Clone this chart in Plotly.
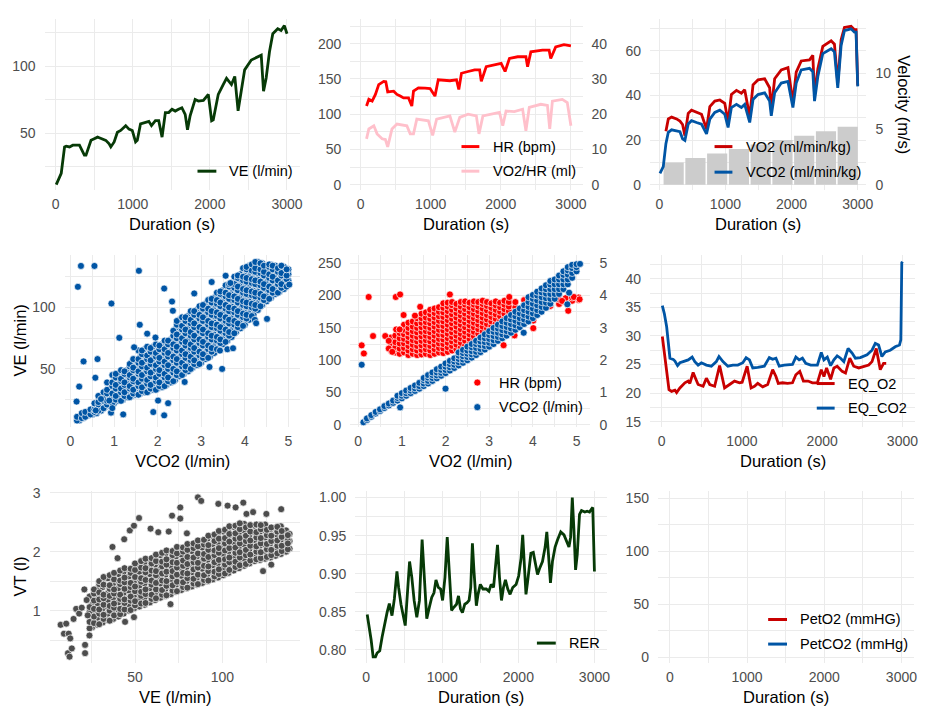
import plotly.graph_objects as go

FONT = "Liberation Sans, Arial, sans-serif"

# ---------------- data ----------------
# Panel 1: VE (l/min) over time
VE_T = [8, 51, 73, 116, 137, 180, 223, 309, 373, 394, 459, 501, 544, 566, 609, 651, 694, 716, 759, 801,
        844, 887, 909, 951, 994, 1037, 1059, 1101, 1166, 1209, 1243, 1294, 1337, 1380, 1423, 1466, 1509, 1551, 1594, 1637,
        1680, 1710, 1744, 1809, 1851, 1916, 1980, 2023, 2044, 2109, 2173, 2216, 2280, 2323, 2366, 2409, 2451, 2537, 2623, 2666,
        2696, 2730, 2773, 2816, 2880, 2923, 2966, 3000]
VE_V = [11.5, 16.4, 20, 39.7, 40.2, 39.7, 41, 41, 33.6, 33.6, 44.6, 45.8, 47, 46.5, 45.8, 44.6, 42, 39.7, 43.4, 50.7,
        52, 54.4, 55.6, 53, 52, 43.4, 44.6, 57, 58, 58.8, 55.6, 59.3, 59.3, 47, 65.4, 65.4, 67.9, 66.5, 67.9, 69,
        64, 52.5, 63, 75.2, 74, 74.5, 79, 59.3, 60, 79, 86.3, 91, 86.3, 92.4, 66.7, 83.8, 97.3, 104.7, 107, 108.3,
        81.4, 91.2, 110.8, 124.3, 128, 126.7, 130.4, 124.3]

# Panel 2: HR (bpm) and VO2/HR (ml)
HR_T = [85, 118, 165, 212, 259, 330, 360, 387, 472, 519, 566, 613, 684, 731, 755, 825, 920, 991, 1061, 1108,
        1274, 1368, 1401, 1439, 1533, 1627, 1698, 1722, 1792, 1934, 2005, 2061, 2123, 2241, 2358, 2382, 2429, 2594, 2689, 2712,
        2783, 2901, 3000]
HR_V = [111.6, 121, 118.6, 128, 141.9, 146.5, 146, 131.6, 132.6, 128, 125.6, 123, 123, 111.6, 132.6, 137.2, 137, 136.3, 125.6, 148.8,
        147.4, 148.8, 134.9, 158, 160.5, 162.8, 162.8, 146.5, 167.4, 169.8, 172, 160.5, 179, 181.4, 181.4, 167.4, 188.4, 190.7, 190.7, 179,
        195.3, 198.6, 196.7]
O2P_T = [85, 118, 189, 236, 307, 354, 387, 448, 519, 660, 708, 755, 802, 967, 1028, 1085, 1274, 1344, 1415, 1533,
         1651, 1689, 1745, 1981, 2028, 2075, 2193, 2311, 2358, 2406, 2571, 2665, 2698, 2736, 2877, 2948, 3000]
O2P_V = [13.0, 15.8, 16.7, 14.4, 13.0, 12.8, 10.7, 15.8, 17.2, 16.7, 14.4, 14.4, 18.6, 18.1, 14.0, 18.6, 19.5, 14.9, 19.1, 20.0,
         19.5, 14.4, 19.5, 20.5, 16.7, 20.9, 20.7, 21.4, 15.3, 21.9, 22.8, 22.5, 15.8, 23.7, 24.2, 23.3, 16.7]

# Panel 3: VO2 / VCO2 (ml/min/kg) and stage velocity (m/s)
GAS_T = [10, 60, 100, 136, 186, 261, 312, 352, 387, 437, 487, 563, 638, 714, 764, 839, 915, 990, 1040, 1090,
         1166, 1241, 1291, 1367, 1417, 1492, 1593, 1668, 1693, 1744, 1844, 1945, 2020, 2070, 2146, 2271, 2321, 2347, 2397, 2472,
         2598, 2648, 2698, 2749, 2799, 2899, 2950, 2975, 3000]
VO2_KG = [5.0, 8.0, 24.0, 29.5, 30.3, 29.5, 28.5, 27.0, 22.0, 32.0, 33.4, 32.5, 31.6, 25.0, 35.0, 37.5, 38.0, 36.5, 28.0, 40.5,
          42.3, 41.0, 42.6, 30.5, 44.8, 47.0, 47.5, 43.5, 33.5, 47.5, 51.5, 52.5, 37.0, 50.5, 55.5, 56.0, 58.0, 40.0, 52.0, 62.0,
          64.5, 63.0, 45.5, 65.0, 70.5, 71.0, 69.5, 69.5, 44.5]
VCO2_KG = [5.1, 8.1, 18.4, 23.5, 24.6, 24.3, 23.8, 20.6, 19.9, 27.2, 28.7, 27.9, 27.2, 22.8, 29.4, 32.4, 33.4, 31.6, 25.7, 34.6,
           36.0, 34.6, 36.0, 27.9, 38.2, 40.4, 41.2, 37.5, 30.9, 41.2, 45.6, 46.3, 34.6, 45.6, 51.5, 52.2, 50.7, 37.5, 48.5, 58.8,
           61.0, 59.6, 43.4, 62.5, 69.1, 69.9, 68.4, 68.4, 44.1]
STAGE_T = [217, 546, 875, 1204, 1533, 1862, 2191, 2520, 2849]
VELOCITY = [2.0, 2.4, 2.8, 3.2, 3.6, 4.0, 4.4, 4.8, 5.2]

# Panel 4: VE vs VCO2 (columns of VCO2 with the VE values read in each; two interleaved sets)
P4_X = [0.15, 0.26, 0.34, 0.46, 0.55, 0.64, 0.76, 0.84, 0.96, 1.04, 1.16, 1.24, 1.36, 1.44, 1.56, 1.64, 1.76, 1.84, 1.96, 2.04,
        2.16, 2.24, 2.36, 2.44, 2.56, 2.64, 2.76, 2.84, 2.96, 3.04, 3.16, 3.24, 3.36, 3.44, 3.56, 3.64, 3.76, 3.84, 3.96, 4.04,
        4.16, 4.24, 4.36, 4.44, 4.56, 4.64, 4.76, 4.84, 4.96]
P4_Y = [[8, 11], [10, 14], [11, 15], [13, 17], [15, 17, 22], [16, 21, 23, 28], [18, 24, 26, 31], [21, 24, 30, 33, 39],
        [22, 27, 30, 36, 39, 45], [25, 28, 34, 37, 43, 46], [24, 31, 34, 40, 42, 49], [28, 31, 37, 39, 46, 48],
        [27, 34, 36, 43, 45, 52, 54], [30, 33, 40, 42, 49, 51, 58], [29, 36, 39, 46, 48, 55, 58, 65],
        [32, 35, 42, 45, 52, 55, 62, 65], [31, 38, 41, 48, 51, 58, 61, 68], [34, 37, 44, 47, 54, 57, 64, 67],
        [33, 40, 43, 50, 53, 60, 63, 70], [36, 39, 46, 49, 56, 59, 66, 69], [36, 43, 46, 53, 56, 63, 66, 73],
        [40, 43, 50, 53, 60, 63, 70, 73], [40, 47, 50, 57, 60, 67, 70, 77, 81], [45, 48, 55, 58, 65, 68, 75, 78, 86, 89],
        [45, 52, 55, 62, 65, 72, 75, 82, 85, 92], [49, 52, 59, 62, 69, 72, 79, 82, 89, 92],
        [50, 57, 60, 67, 70, 77, 80, 87, 90, 97], [54, 57, 64, 67, 74, 77, 84, 87, 94, 97],
        [54, 61, 64, 71, 74, 81, 84, 91, 94, 101], [59, 62, 69, 72, 79, 82, 89, 92, 99, 102],
        [59, 66, 69, 76, 79, 86, 89, 96, 99, 106], [64, 67, 74, 77, 84, 87, 94, 97, 104, 107],
        [66, 73, 76, 83, 86, 93, 96, 103, 106, 112], [71, 74, 81, 84, 91, 94, 101, 104, 111, 113],
        [72, 79, 82, 89, 92, 99, 102, 109, 112, 118], [77, 80, 87, 90, 97, 100, 107, 110, 117, 119],
        [79, 86, 89, 96, 99, 106, 109, 116, 119, 125], [84, 87, 94, 97, 104, 107, 114, 117, 124, 126],
        [85, 92, 95, 102, 105, 112, 115, 122, 125, 132], [91, 94, 101, 104, 111, 114, 121, 124, 131, 133],
        [93, 100, 103, 110, 113, 120, 123, 130, 135], [99, 102, 109, 112, 119, 122, 129, 132, 137],
        [101, 108, 111, 118, 121, 128, 131, 136], [106, 109, 116, 119, 126, 129, 134], [107, 114, 117, 124, 127, 133, 135],
        [112, 115, 122, 125, 131, 134], [112, 119, 122, 129, 132], [116, 119, 126, 128, 134], [117, 123, 126, 131]]
P4B_X = [0.2, 0.3, 0.4, 0.5, 0.6, 0.7, 0.8, 0.9, 1.0, 1.1, 1.2, 1.3, 1.4, 1.5, 1.6, 1.7, 1.8, 1.9, 2.0, 2.1,
         2.2, 2.3, 2.4, 2.5, 2.6, 2.7, 2.8, 2.9, 3.0, 3.1, 3.2, 3.3, 3.4, 3.5, 3.6, 3.7, 3.8, 3.9, 4.0, 4.1,
         4.2, 4.3, 4.4, 4.5, 4.6, 4.7, 4.8, 4.9, 5.0]
P4B_Y = [[8, 11], [10, 13], [12, 15], [13, 16], [14, 18, 21], [16, 20, 24, 28], [19, 23, 27, 31], [20, 25, 29, 33, 38],
         [22, 26, 31, 35, 40, 44], [24, 28, 33, 37, 42, 46], [25, 30, 34, 39, 43, 48], [27, 31, 36, 40, 45, 49],
         [28, 33, 37, 42, 46, 51, 55], [29, 34, 39, 43, 48, 52, 57], [30, 35, 40, 45, 49, 54, 59, 64],
         [31, 36, 41, 46, 51, 56, 61, 66], [32, 37, 42, 47, 52, 57, 62, 67], [33, 38, 43, 48, 53, 58, 63, 68],
         [34, 39, 44, 49, 54, 59, 64, 69], [35, 40, 45, 50, 55, 60, 65, 70], [37, 42, 47, 52, 57, 62, 67, 72],
         [39, 44, 49, 54, 59, 64, 69, 74], [41, 46, 51, 56, 61, 66, 71, 76, 82], [44, 49, 54, 59, 64, 69, 74, 79, 85, 90],
         [46, 51, 56, 61, 66, 71, 76, 81, 86, 91], [48, 53, 58, 63, 68, 73, 78, 83, 88, 93],
         [51, 56, 61, 66, 71, 76, 81, 86, 91, 96], [53, 58, 63, 68, 73, 78, 83, 88, 93, 98],
         [55, 60, 65, 70, 75, 80, 85, 90, 95, 100], [58, 63, 68, 73, 78, 83, 88, 93, 98, 103],
         [60, 65, 70, 75, 80, 85, 90, 95, 100, 105], [63, 68, 73, 78, 83, 88, 93, 98, 103, 108],
         [67, 72, 77, 82, 87, 92, 97, 102, 107, 111], [70, 75, 80, 85, 90, 95, 100, 105, 110, 114],
         [73, 78, 83, 88, 93, 98, 103, 108, 113, 117], [76, 81, 86, 91, 96, 101, 106, 111, 116, 120],
         [80, 85, 90, 95, 100, 105, 110, 115, 120, 124], [83, 88, 93, 98, 103, 108, 113, 118, 123, 127],
         [86, 91, 96, 101, 106, 111, 116, 121, 126, 131], [90, 95, 100, 105, 110, 115, 120, 125, 130, 134],
         [94, 99, 104, 109, 114, 119, 124, 129, 134], [98, 103, 108, 113, 118, 123, 128, 133, 137],
         [102, 107, 112, 117, 122, 127, 132, 136], [105, 110, 115, 120, 125, 130, 134], [108, 113, 118, 123, 128, 132, 135],
         [111, 116, 121, 126, 130, 134], [113, 118, 123, 128, 132], [115, 120, 125, 129, 133], [118, 122, 127, 131]]
P4_OUT_X = [0.14, 0.2, 0.24, 0.55, 0.17, 0.3, 0.62, 0.57, 0.94, 1.12, 1.57, 1.59, 1.76, 1.95, 2.15, 0.93, 1.21, 1.9, 2.15, 2.24,
            2.01, 2.33, 2.62, 3.19, 3.48, 3.43, 3.6, 3.73, 4.23, 4.51, 4.26, 2.84, 3.24, 3.56, 3.67, 5.02, 0.70, 0.89, 0.58, 0.96,
            1.46, 2.35]
P4_OUT_Y = [23.4, 35.6, 133.8, 133.8, 116.8, 56.1, 58, 42.8, 103.2, 75.3, 129.8, 85.9, 78.7, 75.5, 115.4, 14.4, 13, 14.9, 12.2, 22.1,
            24.2, 104.8, 39.4, 51.6, 50, 64.9, 66, 66.8, 89.9, 90.7, 87.2, 111.4, 120.7, 125.8, 119.9, 118.6, 25.5, 24.2, 16.2, 18.1,
            67.6, 97.3]

# Panel 5: HR (bpm) and VCO2 (l/min) vs VO2 (l/min)
P5R_X = [0.75, 0.85, 0.95, 1.05, 1.15, 1.25, 1.35, 1.45, 1.55, 1.65, 1.75, 1.85, 1.95, 2.05, 2.15, 2.25, 2.35, 2.45, 2.55, 2.65,
         2.75, 2.85, 2.95, 3.05, 3.15, 3.25, 3.35, 3.45, 3.6, 3.8, 4.0, 4.2, 4.4, 4.6, 4.75, 4.9, 5.05]
P5R_Y = [[115, 125, 135], [112, 120, 128, 138], [110, 118, 126, 134, 142], [112, 119, 126, 133, 140, 147, 155],
         [108, 115, 122, 129, 136, 143, 150, 158], [110, 117, 124, 131, 138, 145, 152, 160],
         [108, 115, 122, 129, 136, 143, 150, 157, 165], [109, 116, 123, 130, 137, 144, 151, 158, 165, 172],
         [110, 117, 124, 131, 138, 145, 152, 159, 166, 174], [108, 115, 122, 129, 136, 143, 150, 157, 164, 171, 178],
         [110, 117, 124, 131, 138, 145, 152, 159, 166, 173, 180], [112, 119, 126, 133, 140, 147, 154, 161, 168, 175, 182],
         [111, 118, 125, 132, 139, 146, 153, 160, 167, 174, 181, 188],
         [113, 120, 127, 134, 141, 148, 155, 162, 169, 176, 183, 189],
         [115, 122, 129, 136, 143, 150, 157, 164, 171, 178, 185, 190],
         [117, 124, 131, 138, 145, 152, 159, 166, 173, 180, 187], [120, 127, 134, 141, 148, 155, 162, 169, 176, 183, 190],
         [123, 130, 137, 144, 151, 158, 165, 172, 179, 186, 191], [126, 133, 140, 147, 154, 161, 168, 175, 182, 189],
         [130, 137, 144, 151, 158, 165, 172, 179, 186, 191], [134, 141, 148, 155, 162, 169, 176, 183, 190],
         [138, 145, 152, 159, 166, 173, 180, 187, 192], [142, 149, 156, 163, 170, 177, 184, 190],
         [146, 153, 160, 167, 174, 181, 188], [150, 157, 164, 171, 178, 185, 191], [154, 161, 168, 175, 182, 189],
         [158, 165, 172, 179, 186, 192], [162, 169, 176, 183, 190], [166, 174, 182, 190], [170, 178, 186, 193],
         [175, 183, 191], [180, 188, 195], [184, 191, 196], [187, 194], [190, 196], [192, 197], [193, 197]]
P5R_OUT_X = [0.08, 0.13, 0.24, 0.34, 0.62, 0.70, 0.87, 0.86, 0.96, 0.95, 1.04, 1.42, 1.30, 2.10, 3.33, 3.46, 3.58, 4.01, 4.01,
             4.81, 4.94, 5.07, 4.67, 0.70, 0.78]
P5R_OUT_Y = [123, 110.5, 197.8, 137.4, 137.4, 130, 147.6, 197.8, 201.8, 147.6, 169.9, 182.6, 168.9, 201.8, 123.2, 197.8, 138.4,
             149.6, 161.3, 176.5, 197.8, 194.2, 191.7, 118, 113]
P5B_X = [0.12, 0.2, 0.3, 0.4, 0.5, 0.6, 0.7, 0.8, 0.9, 1.0, 1.1, 1.2, 1.3, 1.4, 1.5, 1.6, 1.7, 1.8, 1.9, 2.0,
         2.1, 2.2, 2.3, 2.4, 2.5, 2.6, 2.7, 2.8, 2.9, 3.0, 3.1, 3.2, 3.3, 3.4, 3.5, 3.6, 3.7, 3.8, 3.9, 4.0,
         4.1, 4.2, 4.3, 4.4, 4.5, 4.6, 4.7, 4.8, 4.9, 5.0, 5.08]
P5B_Y = [[0.08], [0.15, 0.2], [0.25, 0.3], [0.35, 0.4], [0.43, 0.48], [0.52, 0.58], [0.6, 0.66], [0.68, 0.75],
         [0.75, 0.83, 0.9], [0.82, 0.9, 0.98], [0.9, 0.98, 1.06], [0.98, 1.06, 1.14], [1.05, 1.13, 1.22], [1.12, 1.2, 1.3],
         [1.2, 1.28, 1.38, 1.45], [1.28, 1.36, 1.46, 1.54], [1.36, 1.45, 1.54, 1.62], [1.44, 1.53, 1.62, 1.72],
         [1.52, 1.61, 1.7, 1.8], [1.6, 1.7, 1.8, 1.9], [1.68, 1.78, 1.88, 1.98], [1.76, 1.86, 1.96, 2.06],
         [1.84, 1.94, 2.04, 2.14, 2.24], [1.92, 2.02, 2.12, 2.22, 2.32], [2.0, 2.1, 2.2, 2.3, 2.42],
         [2.08, 2.18, 2.28, 2.4, 2.5], [2.16, 2.26, 2.38, 2.5, 2.6], [2.25, 2.35, 2.47, 2.58, 2.7],
         [2.33, 2.44, 2.56, 2.68, 2.8], [2.42, 2.54, 2.66, 2.78, 2.9], [2.5, 2.62, 2.75, 2.88, 3.0],
         [2.6, 2.72, 2.85, 2.98, 3.1], [2.68, 2.8, 2.93, 3.06, 3.2], [2.76, 2.9, 3.03, 3.16, 3.3],
         [2.85, 2.98, 3.12, 3.26, 3.4], [2.94, 3.08, 3.22, 3.36, 3.5], [3.02, 3.16, 3.3, 3.45, 3.6],
         [3.12, 3.26, 3.4, 3.55, 3.7], [3.2, 3.35, 3.5, 3.65, 3.8, 3.95], [3.3, 3.45, 3.6, 3.75, 3.9, 4.02],
         [3.4, 3.55, 3.7, 3.85, 4.0, 4.12], [3.5, 3.65, 3.8, 3.95, 4.1, 4.22], [3.62, 3.78, 3.92, 4.06, 4.2, 4.32],
         [3.75, 3.9, 4.05, 4.2, 4.34, 4.45], [3.9, 4.05, 4.2, 4.35, 4.5], [4.05, 4.2, 4.35, 4.5, 4.62],
         [4.2, 4.35, 4.5, 4.64, 4.75], [4.35, 4.5, 4.65, 4.78, 4.88], [4.55, 4.7, 4.85, 4.95], [4.75, 4.88, 4.97], [4.98]]
P5B_OUT_X = [0.08, 0.96, 2.0, 3.79, 4.83, 4.79]
P5B_OUT_Y = [1.86, 0.54, 1.12, 2.85, 4.09, 3.73]

# Panel 6: ventilatory equivalents
EQC_T = [8, 33, 62, 83, 103, 144, 165, 198, 227, 268, 330, 380, 413, 454, 495, 557, 619, 681, 714, 763,
         825, 887, 949, 1011, 1052, 1094, 1135, 1197, 1279, 1341, 1383, 1424, 1465, 1527, 1589, 1630, 1672, 1713, 1754, 1795,
         1857, 1940, 1989, 2022, 2064, 2105, 2146, 2187, 2229, 2270, 2323, 2373, 2414, 2476, 2559, 2621, 2662, 2703, 2744, 2786,
         2848, 2910, 2963, 2980, 2992, 3000]
EQC_V = [35.3, 33.9, 31.6, 28.4, 26.1, 25.9, 25.6, 24.8, 25.3, 25.5, 25.8, 26.3, 25.5, 24.9, 25.3, 24.9, 24.7, 25.5, 26.4, 25.5,
         24.7, 24.9, 24.9, 25.3, 26.2, 25.8, 24.4, 24.5, 24.7, 26.2, 25.9, 26.1, 24.7, 24.9, 24.9, 25.0, 26.3, 25.8, 26.1, 25.2,
         24.9, 24.9, 27.1, 25.8, 26.3, 24.8, 25.8, 26.5, 26.1, 25.5, 27.8, 27.0, 26.1, 26.2, 26.7, 27.5, 28.7, 28.4, 26.4, 27.2,
         27.5, 28.1, 28.4, 29.3, 42.8, 43.0]
EQO_T = [8, 41, 74, 91, 124, 165, 186, 227, 289, 330, 351, 392, 421, 454, 516, 557, 599, 660, 722, 784,
         846, 908, 970, 1003, 1065, 1114, 1156, 1197, 1259, 1321, 1383, 1424, 1453, 1506, 1568, 1630, 1672, 1721, 1766, 1824,
         1878, 1940, 1989, 2022, 2055, 2105, 2146, 2187, 2249, 2291, 2344, 2393, 2456, 2518, 2580, 2621, 2674, 2724, 2765, 2798]
EQO_V = [29.9, 26.4, 22.1, 20.6, 20.3, 20.5, 20.1, 20.9, 21.8, 22.1, 21.7, 23.6, 22.6, 21.5, 21.2, 22.6, 21.5, 21.2, 24.8, 20.9,
         21.5, 22.1, 21.8, 21.9, 24.7, 20.9, 21.2, 21.7, 21.1, 21.5, 24.1, 22.9, 21.7, 21.8, 21.7, 21.8, 23.2, 23.8, 22.1, 22.1,
         21.8, 21.8, 24.1, 22.9, 24.4, 22.4, 24.4, 24.7, 23.8, 23.5, 26.1, 24.7, 24.4, 24.7, 24.9, 25.5, 27.8, 24.1, 25.2, 25.2]

# Panel 7: VT (l) vs VE (l/min) (two interleaved sets of columns)
P7_X = [24, 26.5, 29.5, 32, 35.5, 38, 41.5, 44, 47.5, 50, 53.5, 56, 59.5, 62, 65.5, 68, 71.5, 74, 77.5, 80,
        83.5, 86, 89.5, 92, 95.5, 98, 101.5, 104, 107.5, 110, 113.5, 116, 119.5, 122, 125.5, 128, 131.5, 134, 137.5]
P7_Y = [[0.7, 0.81, 0.98, 1.06, 1.24], [0.79, 0.9, 1.03, 1.17, 1.29, 1.36], [0.77, 0.95, 1.02, 1.19, 1.31, 1.45, 1.5],
        [0.86, 0.93, 1.1, 1.21, 1.27, 1.44, 1.57], [0.83, 1.0, 1.08, 1.25, 1.37, 1.43, 1.6],
        [0.92, 1.05, 1.12, 1.29, 1.36, 1.53, 1.64], [0.94, 1.03, 1.2, 1.27, 1.45, 1.51, 1.68],
        [1.02, 1.13, 1.19, 1.37, 1.48, 1.56, 1.72], [1.01, 1.17, 1.24, 1.4, 1.47, 1.64, 1.71],
        [1.09, 1.16, 1.33, 1.41, 1.57, 1.69, 1.8], [1.12, 1.25, 1.32, 1.49, 1.55, 1.73, 1.84],
        [1.13, 1.28, 1.36, 1.52, 1.65, 1.72, 1.88], [1.2, 1.27, 1.44, 1.51, 1.68, 1.8, 1.89],
        [1.21, 1.36, 1.47, 1.6, 1.67, 1.84, 1.95], [1.27, 1.35, 1.51, 1.63, 1.75, 1.83, 1.98],
        [1.26, 1.42, 1.5, 1.66, 1.78, 1.87, 2.02], [1.34, 1.43, 1.58, 1.67, 1.82, 1.94, 2.01],
        [1.33, 1.49, 1.61, 1.73, 1.81, 1.97, 2.08], [1.4, 1.48, 1.64, 1.76, 1.85, 2.0, 2.07],
        [1.39, 1.55, 1.63, 1.79, 1.91, 2.03, 2.13], [1.46, 1.54, 1.7, 1.82, 1.9, 2.06, 2.14],
        [1.45, 1.61, 1.73, 1.81, 1.97, 2.09, 2.19], [1.52, 1.6, 1.76, 1.88, 1.96, 2.12, 2.2],
        [1.51, 1.67, 1.75, 1.91, 2.03, 2.11, 2.27], [1.58, 1.66, 1.82, 1.94, 2.02, 2.18, 2.29],
        [1.62, 1.7, 1.86, 1.98, 2.06, 2.22, 2.35], [1.63, 1.78, 1.87, 2.02, 2.14, 2.23, 2.37],
        [1.69, 1.82, 1.9, 2.06, 2.17, 2.3, 2.43], [1.74, 1.83, 1.98, 2.07, 2.22, 2.31, 2.44],
        [1.77, 1.9, 1.99, 2.14, 2.23, 2.38, 2.48], [1.79, 1.94, 2.03, 2.18, 2.27, 2.41],
        [1.85, 1.95, 2.1, 2.19, 2.34, 2.45], [1.87, 2.0, 2.09, 2.24, 2.33, 2.46], [1.89, 1.99, 2.14, 2.23, 2.38, 2.45],
        [1.91, 2.04, 2.13, 2.28, 2.37], [1.94, 2.03, 2.18, 2.27, 2.41], [1.97, 2.1, 2.19, 2.34, 2.42],
        [2.01, 2.1, 2.25, 2.35], [2.04, 2.19, 2.28]]
P7B_X = [25.5, 28.5, 31.5, 34.5, 37.5, 40.5, 43.5, 46.5, 49.5, 52.5, 55.5, 58.5, 61.5, 64.5, 67.5, 70.5, 73.5, 76.5, 79.5, 82.5,
         85.5, 88.5, 91.5, 94.5, 97.5, 100.5, 103.5, 106.5, 109.5, 112.5, 115.5, 118.5, 121.5, 124.5, 127.5, 130.5, 133.5, 136.5, 138.5]
P7B_Y = [[0.72, 0.85, 0.97, 1.1, 1.22], [0.76, 0.88, 1.0, 1.12, 1.25, 1.38], [0.8, 0.92, 1.04, 1.16, 1.28, 1.4, 1.52],
         [0.84, 0.95, 1.06, 1.18, 1.3, 1.42, 1.55], [0.86, 0.98, 1.1, 1.22, 1.34, 1.46, 1.58],
         [0.9, 1.02, 1.14, 1.26, 1.38, 1.5, 1.62], [0.95, 1.06, 1.18, 1.3, 1.42, 1.54, 1.66],
         [1.0, 1.1, 1.22, 1.34, 1.46, 1.58, 1.7], [1.04, 1.15, 1.26, 1.38, 1.5, 1.62, 1.74],
         [1.07, 1.18, 1.3, 1.42, 1.54, 1.66, 1.78], [1.1, 1.22, 1.34, 1.46, 1.58, 1.7, 1.82],
         [1.14, 1.26, 1.38, 1.5, 1.62, 1.74, 1.86], [1.18, 1.3, 1.42, 1.54, 1.66, 1.78, 1.9],
         [1.22, 1.34, 1.46, 1.58, 1.7, 1.82, 1.94], [1.25, 1.37, 1.49, 1.61, 1.73, 1.85, 1.97],
         [1.28, 1.4, 1.52, 1.64, 1.76, 1.88, 2.0], [1.32, 1.44, 1.56, 1.68, 1.8, 1.92, 2.03],
         [1.35, 1.47, 1.59, 1.71, 1.83, 1.95, 2.06], [1.38, 1.5, 1.62, 1.74, 1.86, 1.98, 2.09],
         [1.41, 1.53, 1.65, 1.77, 1.89, 2.01, 2.12], [1.44, 1.56, 1.68, 1.8, 1.92, 2.04, 2.15],
         [1.47, 1.59, 1.71, 1.83, 1.95, 2.07, 2.18], [1.5, 1.62, 1.74, 1.86, 1.98, 2.1, 2.22],
         [1.53, 1.65, 1.77, 1.89, 2.01, 2.13, 2.26], [1.56, 1.68, 1.8, 1.92, 2.04, 2.16, 2.3],
         [1.6, 1.72, 1.84, 1.96, 2.08, 2.2, 2.34], [1.64, 1.76, 1.88, 2.0, 2.12, 2.24, 2.38],
         [1.68, 1.8, 1.92, 2.04, 2.16, 2.28, 2.42], [1.72, 1.84, 1.96, 2.08, 2.2, 2.32, 2.45],
         [1.76, 1.88, 2.0, 2.12, 2.24, 2.36, 2.47], [1.8, 1.92, 2.04, 2.16, 2.28, 2.4],
         [1.84, 1.96, 2.08, 2.2, 2.32, 2.44], [1.86, 1.98, 2.1, 2.22, 2.34, 2.45], [1.88, 2.0, 2.12, 2.24, 2.36, 2.46],
         [1.9, 2.02, 2.14, 2.26, 2.38], [1.93, 2.05, 2.17, 2.29, 2.4], [1.96, 2.08, 2.2, 2.32, 2.43],
         [2.0, 2.12, 2.24, 2.36], [2.05, 2.18, 2.3]]
P7_OUT_X = [7.4, 9.3, 10.6, 12, 11.6, 12.5, 13.8, 12.9, 14.8, 16.3, 21, 21.4, 21.4, 22.3, 23.9, 22.9, 37.1, 40, 43.8, 47,
            49.4, 52.3, 49.4, 44.3, 58.9, 63.3, 69.3, 71.2, 75.9, 75.9, 79.7, 86, 87.9, 70.3, 97.7, 103, 107.6, 112, 113.8, 117.6,
            125.2, 133.7, 123.3, 128, 137.5, 18, 19.5]
P7_OUT_Y = [0.76, 0.61, 0.78, 0.61, 0.28, 0.22, 0.36, 0.53, 0.86, 1.03, 1.36, 0.42, 0.28, 1.18, 0.58, 0.92, 2.08, 1.89, 2.21, 2.36,
            2.44, 2.57, 0.89, 0.81, 2.39, 2.33, 2.34, 2.61, 2.75, 2.56, 2.31, 2.92, 2.86, 1.11, 2.81, 2.78, 2.75, 2.83, 2.64, 2.67,
            2.64, 2.72, 1.67, 1.78, 2.14, 0.95, 1.05]

# Panel 8: RER over time
RER_T = [13, 35, 65, 91, 122, 143, 178, 209, 239, 274, 304, 339, 370, 404, 426, 457, 513, 570, 600, 630,
         665, 700, 735, 765, 796, 830, 861, 891, 917, 948, 978, 1004, 1035, 1065, 1091, 1122, 1152, 1187, 1213, 1239,
         1265, 1296, 1326, 1352, 1374, 1396, 1417, 1448, 1470, 1500, 1535, 1578, 1613, 1643, 1674, 1700, 1726, 1752, 1778, 1804,
         1830, 1861, 1891, 1926, 1970, 2004, 2035, 2057, 2078, 2100, 2122, 2143, 2165, 2196, 2222, 2252, 2283, 2317, 2352, 2374,
         2396, 2422, 2448, 2483, 2513, 2557, 2600, 2630, 2665, 2687, 2709, 2730, 2752, 2774, 2804, 2830, 2874, 2904, 2935, 2961,
         2978, 3000]
RER_V = [0.8465, 0.834, 0.813, 0.791, 0.791, 0.796, 0.799, 0.817, 0.834, 0.849, 0.861, 0.845, 0.867, 0.903, 0.882, 0.860, 0.832, 0.916, 0.895, 0.865,
         0.843, 0.865, 0.945, 0.895, 0.841, 0.856, 0.869, 0.875, 0.892, 0.882, 0.880, 0.865, 0.895, 0.948, 0.903, 0.852, 0.856, 0.860, 0.871, 0.854,
         0.849, 0.860, 0.862, 0.865, 0.882, 0.940, 0.903, 0.858, 0.873, 0.886, 0.880, 0.880, 0.877, 0.886, 0.882, 0.908, 0.938, 0.895, 0.865, 0.882,
         0.892, 0.880, 0.873, 0.882, 0.886, 0.897, 0.920, 0.951, 0.908, 0.873, 0.890, 0.912, 0.927, 0.928, 0.916, 0.899, 0.908, 0.916, 0.935, 0.955,
         0.925, 0.888, 0.916, 0.935, 0.944, 0.955, 0.951, 0.944, 0.935, 0.948, 1.000, 0.959, 0.905, 0.925, 0.978, 0.983, 0.981, 0.982, 0.981, 0.985,
         0.987, 0.903]

# Panel 9: end-tidal pressures (no values recorded)
PET_T = []
PETO2 = []
PETCO2 = []

for a, b in [(VE_T, VE_V), (HR_T, HR_V), (O2P_T, O2P_V), (GAS_T, VO2_KG), (GAS_T, VCO2_KG), (STAGE_T, VELOCITY),
             (P4_X, P4_Y), (P4B_X, P4B_Y), (P4_OUT_X, P4_OUT_Y), (P5R_X, P5R_Y), (P5R_OUT_X, P5R_OUT_Y), (P5B_X, P5B_Y),
             (P5B_OUT_X, P5B_OUT_Y), (EQC_T, EQC_V), (EQO_T, EQO_V), (P7_X, P7_Y), (P7B_X, P7B_Y),
             (P7_OUT_X, P7_OUT_Y), (RER_T, RER_V)]:
    assert len(a) == len(b), (len(a), len(b))


def flatten(groups, out_x, out_y):
    X, Y = [], []
    for xs, cols in groups:
        for x, ys in zip(xs, cols):
            for y in ys:
                X.append(x)
                Y.append(y)
    return X + list(out_x), Y + list(out_y)


# ---------------- styling ----------------
W, H = 925, 713
GREEN = "#073A07"
RED = "#C80000"
BRIGHT_RED = "#FF0000"
BLUE = "#0055A5"
PINK = "#FFC0CB"
GREY_PT = "#4D4D4D"
BAR = "#CCCCCC"
GRID = "#EBEBEB"
TICKF = dict(family=FONT, size=14, color="#4D4D4D")
LW = 2.8

AREA = {1: (45, 302, 13, 187), 2: (353, 587, 13, 187), 3: (655, 873, 13, 187),
        4: (65, 302, 253, 428), 5: (353, 595, 253, 428), 6: (655, 922, 253, 428),
        7: (50, 302, 493, 668), 8: (358, 612, 493, 668), 9: (663, 921, 493, 668)}


def xdom(i):
    l, r, t, b = AREA[i]
    return [l / W, r / W]


def ydom(i):
    l, r, t, b = AREA[i]
    return [1 - b / H, 1 - t / H]


def axis(rng, dtick, minor, anchor, domain=None, grid=True, side=None, overlaying=None, fmt=None, standoff=4):
    d = dict(range=rng, anchor=anchor, tick0=0, dtick=dtick, showgrid=grid, gridcolor=GRID, gridwidth=1.1,
             zeroline=False, showline=False, ticks="", tickfont=TICKF, ticklabelstandoff=standoff,
             ticklabeloverflow="allow", fixedrange=True)
    if domain is not None:
        d["domain"] = domain
    if minor:
        d["minor"] = dict(tick0=0, dtick=minor, showgrid=grid, gridcolor=GRID, gridwidth=0.55)
    if side:
        d["side"] = side
    if overlaying:
        d["overlaying"] = overlaying
    if fmt:
        d["tickformat"] = fmt
    return d


fig = go.Figure()

def line(x, y, color, xa, ya, width=LW):
    fig.add_trace(go.Scatter(x=x, y=y, mode="lines", line=dict(color=color, width=width),
                             xaxis=xa, yaxis=ya, showlegend=False, hoverinfo="skip"))

def points(x, y, color, xa, ya):
    fig.add_trace(go.Scatter(x=x, y=y, mode="markers",
                             marker=dict(size=7, color=color, line=dict(color="white", width=0.7)),
                             xaxis=xa, yaxis=ya, showlegend=False, hoverinfo="skip"))

# Panel 1
line(VE_T, VE_V, GREEN, "x", "y")
# Panel 2
line(HR_T, HR_V, BRIGHT_RED, "x2", "y2")
line(O2P_T, O2P_V, PINK, "x2", "y10")
# Panel 3
fig.add_trace(go.Bar(x=STAGE_T, y=VELOCITY, width=305, marker=dict(color=BAR, line=dict(width=0)),
                     xaxis="x3", yaxis="y3", showlegend=False, hoverinfo="skip"))
line(GAS_T[2:], VO2_KG[2:], RED, "x3", "y11")
line(GAS_T, VCO2_KG, BLUE, "x3", "y11")
# Panel 4
x4, y4 = flatten([(P4B_X, P4B_Y), (P4_X, P4_Y)], P4_OUT_X, P4_OUT_Y)
points(x4, y4, BLUE, "x4", "y4")
# Panel 5
x5r, y5r = flatten([(P5R_X, P5R_Y)], P5R_OUT_X, P5R_OUT_Y)
points(x5r, y5r, BRIGHT_RED, "x5", "y5")
x5b, y5b = flatten([(P5B_X, P5B_Y)], P5B_OUT_X, P5B_OUT_Y)
points(x5b, y5b, BLUE, "x5", "y12")
# Panel 6
line(EQO_T, EQO_V, RED, "x6", "y6")
line(EQC_T, EQC_V, BLUE, "x6", "y6")
# Panel 7
x7, y7 = flatten([(P7B_X, P7B_Y), (P7_X, P7_Y)], P7_OUT_X, P7_OUT_Y)
points(x7, y7, GREY_PT, "x7", "y7")
# Panel 8
line(RER_T, RER_V, GREEN, "x8", "y8")
# Panel 9 (empty series)
line(PET_T, PETO2, RED, "x9", "y9")
line(PET_T, PETCO2, BLUE, "x9", "y9")

layout = dict(
    width=W, height=H, margin=dict(l=0, r=0, t=0, b=0),
    paper_bgcolor="white", plot_bgcolor="white", showlegend=False,
    font=dict(family=FONT, size=14, color="black"),
    xaxis=axis([-142, 3165], 1000, 500, "y", xdom(1)),
    yaxis=axis([7.6, 135.5], 50, 25, "x", ydom(1), standoff=8),
    xaxis2=axis([-146, 3166], 1000, 500, "y2", xdom(2)),
    yaxis2=axis([-7.4, 235.3], 50, 25, "x2", ydom(2), standoff=8),
    yaxis10=axis([-7.4 / 5, 235.3 / 5], 10, None, "x2", grid=False, side="right", overlaying="y2", standoff=8),
    xaxis3=axis([-140, 3131], 1000, 500, "y3", xdom(3)),
    yaxis3=axis([-2.3 / 5, 74.4 / 5], 5, None, "x3", ydom(3), grid=False, side="right", standoff=8),
    yaxis11=axis([-2.3, 74.4], 20, 10, "x3", grid=True, side="left", overlaying="y3", standoff=8),
    xaxis4=axis([-0.137, 5.26], 1, 0.5, "y4", xdom(4)),
    yaxis4=axis([2.9, 142.9], 50, 25, "x4", ydom(4), standoff=8),
    xaxis5=axis([-0.18, 5.32], 1, 0.5, "y5", xdom(5)),
    yaxis5=axis([-3.0, 263.2], 50, 25, "x5", ydom(5), standoff=8),
    yaxis12=axis([-3.0 / 50, 263.2 / 50], 1, None, "x5", grid=False, side="right", overlaying="y5", standoff=8),
    xaxis6=axis([-145, 3157], 1000, 500, "y6", xdom(6)),
    yaxis6=axis([14.1, 44.2], 5, 2.5, "x6", ydom(6), standoff=8),
    xaxis7=axis([1.1, 144.3], 50, 25, "y7", xdom(7)),
    yaxis7=axis([0.117, 3.033], 1, 0.5, "x7", ydom(7), standoff=8),
    xaxis8=axis([-143.5, 3170], 1000, 500, "y8", xdom(8)),
    yaxis8=axis([0.7832, 1.009], 0.05, 0.025, "x8", ydom(8), fmt=".2f", standoff=8),
    xaxis9=axis([-154, 3163], 1000, 500, "y9", xdom(9)),
    yaxis9=axis([-5.3, 157.1], 50, 25, "x9", ydom(9), standoff=8),
)
fig.update_layout(**layout)

# ---------------- titles & legends ----------------
ann = []
shapes = []

def px(x):
    return x / W

def py(y):
    return 1 - y / H

def title(text, x, y, angle=0, size=16.5):
    ann.append(dict(text=text, x=px(x), y=py(y), xref="paper", yref="paper", showarrow=False,
                    xanchor="center", yanchor="middle", textangle=angle,
                    font=dict(family=FONT, size=size, color="black")))

def center(i):
    l, r, t, b = AREA[i]
    return (l + r) / 2, (t + b) / 2

for i, txt, ty in [(1, "Duration (s)", 222), (2, "Duration (s)", 222), (3, "Duration (s)", 222),
                   (4, "VCO2 (l/min)", 463), (5, "VO2 (l/min)", 463), (6, "Duration (s)", 463),
                   (7, "VE (l/min)", 703), (8, "Duration (s)", 703), (9, "Duration (s)", 703)]:
    title(txt, center(i)[0], ty)
title("VE (l/min)", 20, center(4)[1], angle=-90)
title("VT (l)", 20, center(7)[1], angle=-90)
title("Velocity (m/s)", 911, center(3)[1], angle=90)

def key_line(x0, x1, y, color, text, tx):
    shapes.append(dict(type="line", xref="paper", yref="paper", x0=px(x0), x1=px(x1), y0=py(y), y1=py(y),
                       line=dict(color=color, width=3)))
    ann.append(dict(text=text, x=px(tx), y=py(y), xref="paper", yref="paper", showarrow=False,
                    xanchor="left", yanchor="middle", font=dict(family=FONT, size=14.5, color="black")))

def key_point(cx, y, color, text, tx):
    r = 3.6
    shapes.append(dict(type="circle", xref="paper", yref="paper", x0=px(cx - r), x1=px(cx + r),
                       y0=py(y + r), y1=py(y - r), fillcolor=color, line=dict(color="white", width=0.7)))
    ann.append(dict(text=text, x=px(tx), y=py(y), xref="paper", yref="paper", showarrow=False,
                    xanchor="left", yanchor="middle", font=dict(family=FONT, size=14.5, color="black")))

key_line(199, 218, 168, GREEN, "VE (l/min)", 229)
key_line(465, 483, 143, BRIGHT_RED, "HR (bpm)", 495)
key_line(465, 483, 168, PINK, "VO2/HR (ml)", 495)
key_line(720, 738, 143, RED, "VO2 (ml/min/kg)", 750)
key_line(720, 738, 169, BLUE, "VCO2 (ml/min/kg)", 750)
key_point(481, 383, BRIGHT_RED, "HR (bpm)", 501)
key_point(481, 408, BLUE, "VCO2 (l/min)", 501)
key_line(823, 841, 384, RED, "EQ_O2", 852)
key_line(823, 841, 409, BLUE, "EQ_CO2", 852)
key_line(541, 560, 648, GREEN, "RER", 571)
key_line(774, 793, 624, RED, "PetO2 (mmHG)", 804)
key_line(774, 793, 649, BLUE, "PetCO2 (mmHg)", 804)

fig.update_layout(annotations=ann, shapes=shapes)
fig.write_html("out.html", config={"displayModeBar": False},
               post_script="document.body.style.margin='0px';document.body.style.padding='0px';")
